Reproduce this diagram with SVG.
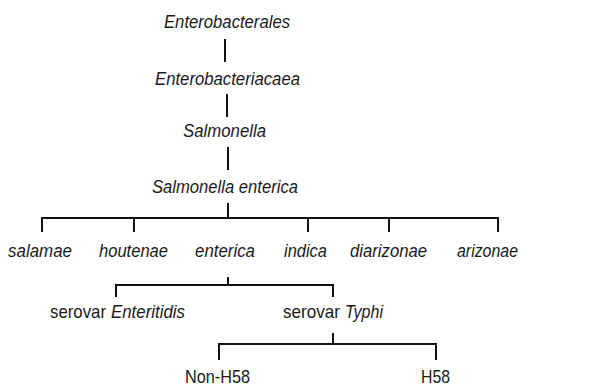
<svg xmlns="http://www.w3.org/2000/svg" width="610" height="387" viewBox="0 0 610 387">
<style>
text{font-family:"Liberation Sans",Arial,sans-serif;font-size:19px;fill:#1a1a1a}
.i{font-style:italic}
.c{stroke:#111;stroke-width:2;fill:none}
</style>
<rect width="610" height="387" fill="#fff"/>
<g id="connectors">
<path class="c" d="M225,39V62M227,94V117M228,147V170"/>
<path class="c" d="M228,203V218M42,232V218H498V232M134,218V232M308,218V232M389,218V232"/>
<path class="c" d="M228,277V285M116,297V285H333V297"/>
<path class="c" d="M333,333V344M219,360V344H436V360"/>
</g>
<g id="n1"><text class="i" x="164" y="28" textLength="126" lengthAdjust="spacingAndGlyphs">Enterobacterales</text></g>
<g id="n2"><text class="i" x="155" y="85" textLength="145" lengthAdjust="spacingAndGlyphs">Enterobacteriacaea</text></g>
<g id="n3"><text class="i" x="183" y="137" textLength="83" lengthAdjust="spacingAndGlyphs">Salmonella</text></g>
<g id="n4"><text class="i" x="152" y="193" textLength="146" lengthAdjust="spacingAndGlyphs">Salmonella enterica</text></g>
<g id="n5"><text class="i" x="8" y="257" textLength="64" lengthAdjust="spacingAndGlyphs">salamae</text></g>
<g id="n6"><text class="i" x="99" y="257" textLength="69" lengthAdjust="spacingAndGlyphs">houtenae</text></g>
<g id="n7"><text class="i" x="195" y="257" textLength="60" lengthAdjust="spacingAndGlyphs">enterica</text></g>
<g id="n8"><text class="i" x="284" y="257" textLength="43" lengthAdjust="spacingAndGlyphs">indica</text></g>
<g id="n9"><text class="i" x="350" y="257" textLength="77" lengthAdjust="spacingAndGlyphs">diarizonae</text></g>
<g id="n10"><text class="i" x="457" y="257" textLength="61" lengthAdjust="spacingAndGlyphs">arizonae</text></g>
<g id="n11"><text x="50" y="318" textLength="56" lengthAdjust="spacingAndGlyphs">serovar</text><text class="i" x="111" y="318" textLength="74" lengthAdjust="spacingAndGlyphs">Enteritidis</text></g>
<g id="n12"><text x="283" y="318" textLength="57" lengthAdjust="spacingAndGlyphs">serovar</text><text class="i" x="345" y="318" textLength="38" lengthAdjust="spacingAndGlyphs">Typhi</text></g>
<g id="n13"><text x="185" y="383" textLength="65" lengthAdjust="spacingAndGlyphs">Non-H58</text></g>
<g id="n14"><text x="421" y="383" textLength="29" lengthAdjust="spacingAndGlyphs">H58</text></g>
</svg>
